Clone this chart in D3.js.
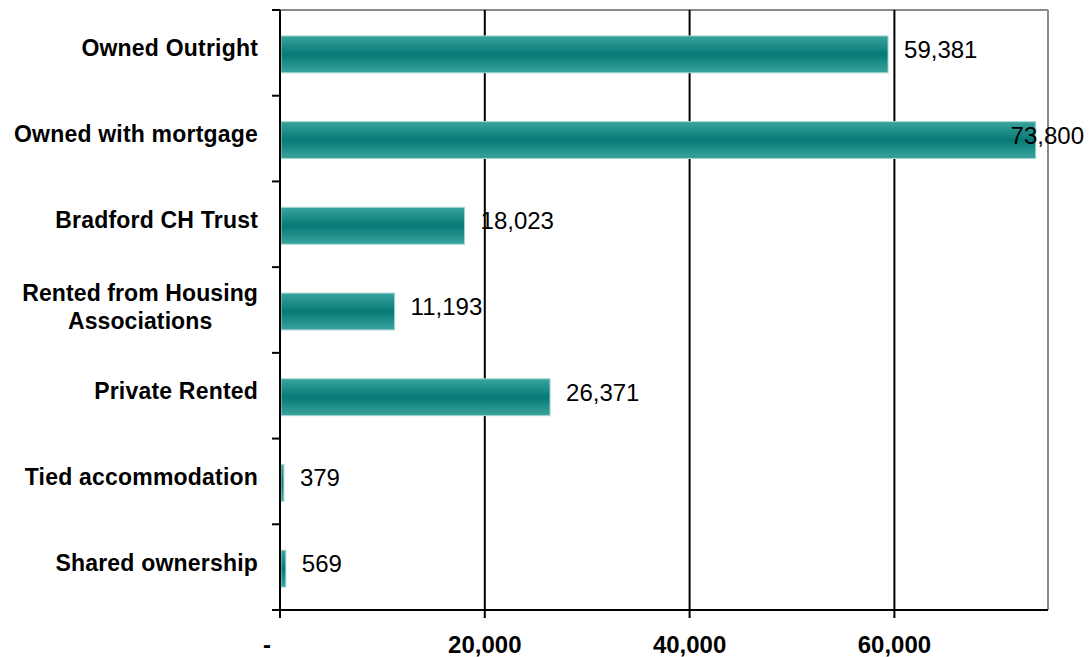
<!DOCTYPE html>
<html>
<head>
<meta charset="utf-8">
<script src="https://cdn.jsdelivr.net/npm/d3@7"></script>
<style>
html,body{margin:0;padding:0;background:#fff;}
svg{display:block;}
text{font-family:"Liberation Sans",Arial,sans-serif;}
</style>
</head>
<body>
<svg id="chart" width="1089" height="657"></svg>
<script>
const categories = [
  ["Owned Outright"],
  ["Owned with mortgage"],
  ["Bradford CH Trust"],
  ["Rented from Housing", "Associations"],
  ["Private Rented"],
  ["Tied accommodation"],
  ["Shared ownership"]
];
const values = [59381, 73800, 18023, 11193, 26371, 379, 569];
const tickValues = [0, 20000, 40000, 60000];
const tickLabels = ["-", "20,000", "40,000", "60,000"];

(function () {
const W = 1089, H = 657;
const pLeft = 280, pRight = 1048, pTop = 10, pBottom = 610;
const svg = d3.select("#chart");

const keys = categories.map(c => c.join(" "));
const x = d3.scaleLinear().domain([0, 75000]).range([pLeft, pRight]);
const y = d3.scaleBand().domain(keys).range([pTop, pBottom]).paddingInner(0.57).paddingOuter(0.285);

const defs = svg.append("defs");
const grad = defs.append("linearGradient").attr("id", "barGrad")
  .attr("x1", 0).attr("y1", 0).attr("x2", 0).attr("y2", 1);
grad.append("stop").attr("offset", "0%").attr("stop-color", "#3aa49e");
grad.append("stop").attr("offset", "50%").attr("stop-color", "#067a75");
grad.append("stop").attr("offset", "100%").attr("stop-color", "#3aa49e");

svg.append("line").attr("x1", pLeft).attr("x2", pRight).attr("y1", pTop).attr("y2", pTop)
  .attr("stroke", "#8a8a8a").attr("stroke-width", 2);
svg.append("line").attr("x1", pRight).attr("x2", pRight).attr("y1", pTop).attr("y2", pBottom)
  .attr("stroke", "#8a8a8a").attr("stroke-width", 2);

svg.append("g").selectAll("line").data(tickValues.filter(v => v > 0)).join("line")
  .attr("x1", d => x(d)).attr("x2", d => x(d))
  .attr("y1", pTop).attr("y2", pBottom + 8)
  .attr("stroke", "#000").attr("stroke-width", 2);

const bandOffset = 1.5;
svg.append("g").selectAll("rect").data(values).join("rect")
  .attr("x", x(0) + 1)
  .attr("y", (d, i) => y(keys[i]) + bandOffset)
  .attr("width", d => Math.max(2, x(d) - x(0) - 1))
  .attr("height", y.bandwidth())
  .attr("fill", "url(#barGrad)")
  .attr("stroke", "#a6d6d2").attr("stroke-width", 1);

svg.append("line").attr("x1", pLeft).attr("x2", pLeft).attr("y1", pTop).attr("y2", pBottom + 8)
  .attr("stroke", "#000").attr("stroke-width", 2);
const boundaries = d3.range(keys.length + 1).map(i => pTop + i * (pBottom - pTop) / keys.length);
svg.append("g").selectAll("line").data(boundaries).join("line")
  .attr("x1", pLeft - 8).attr("x2", pLeft).attr("y1", d => d).attr("y2", d => d)
  .attr("stroke", "#000").attr("stroke-width", 2);

svg.append("line").attr("x1", pLeft - 8).attr("x2", pRight).attr("y1", pBottom).attr("y2", pBottom)
  .attr("stroke", "#000").attr("stroke-width", 2);

svg.append("g").selectAll("text").data(tickValues).join("text")
  .attr("x", d => d === 0 ? x(d) - 13 : x(d))
  .attr("y", 653)
  .attr("text-anchor", "middle")
  .attr("font-weight", "bold")
  .attr("font-size", 24)
  .text((d, i) => tickLabels[i]);

const labG = svg.append("g");
categories.forEach((lines, i) => {
  const cy = y(keys[i]) + y.bandwidth() / 2 + bandOffset;
  const g = labG.append("g");
  if (lines.length === 1) {
    g.append("text").attr("x", 258).attr("y", cy - 6)
      .attr("text-anchor", "end").attr("dominant-baseline", "central")
      .attr("font-weight", "bold").attr("font-size", 23)
      .attr("letter-spacing", 0.2)
      .text(lines[0]);
  } else {
    const texts = lines.map((l, j) => g.append("text")
      .attr("y", cy - 5 + (j - (lines.length - 1) / 2) * 28)
      .attr("dominant-baseline", "central")
      .attr("font-weight", "bold").attr("font-size", 23)
      .attr("letter-spacing", 0.1)
      .attr("text-anchor", "middle")
      .text(l));
    const maxW = d3.max(texts, t => t.node().getComputedTextLength());
    texts.forEach(t => t.attr("x", 258 - maxW / 2));
  }
});

const fmt = d3.format(",");
svg.append("g").selectAll("text").data(values).join("text")
  .attr("y", (d, i) => y(keys[i]) + y.bandwidth() / 2 + bandOffset - 5)
  .attr("dominant-baseline", "central")
  .attr("font-size", 24)
  .text(d => fmt(d))
  .attr("x", function (d) {
    const w = this.getComputedTextLength();
    return Math.min(x(d) + 16, W - 5 - w);
  });
})();
</script>
</body>
</html>
